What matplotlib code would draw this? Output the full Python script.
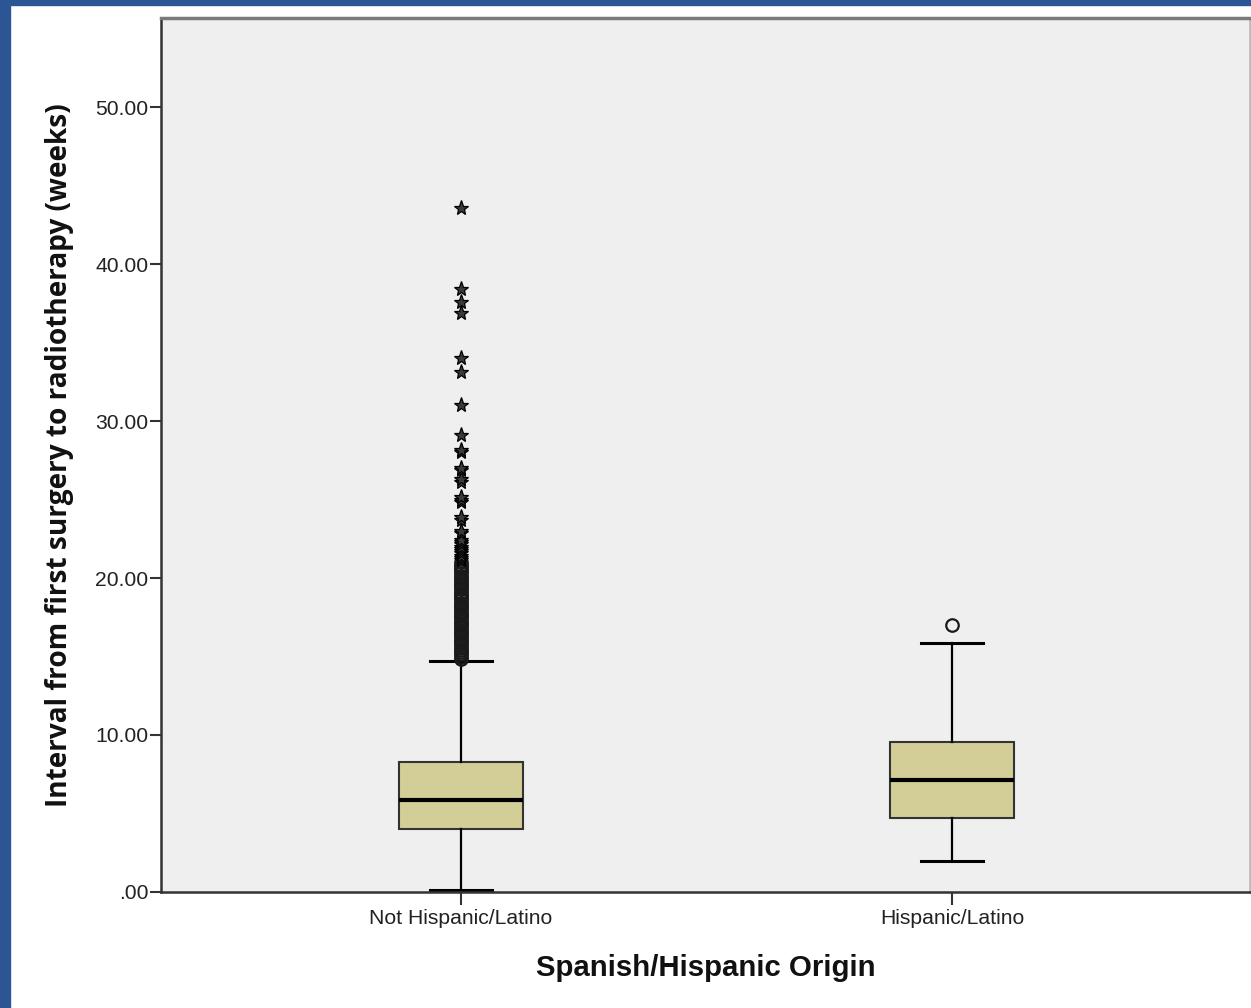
"""
Boxplot: interval from first surgery to radiotherapy by Hispanic origin
"""

import matplotlib.pyplot as plt
from matplotlib.patches import Rectangle


# 数据 (weeks)
groups = ['Not Hispanic/Latino', 'Hispanic/Latino']
q1 = [4.01, 4.71]
medians = [5.86, 7.13]
q3 = [8.28, 9.55]
whisker_low = [0.14, 1.97]
whisker_high = [14.71, 15.86]

# mild outliers (circles), 1.5-3 IQR
mild_outliers = [
    [14.86, 15.00, 15.14, 15.29, 15.43, 15.57, 15.71, 15.86, 16.00, 16.14,
     16.29, 16.43, 16.57, 16.71, 16.86, 17.00, 17.14, 17.29, 17.43, 17.57,
     17.71, 17.86, 18.00, 18.14, 18.29, 18.43, 18.57, 18.71, 18.86, 19.00,
     19.14, 19.29, 19.43, 19.57, 19.71, 19.86, 20.00, 20.14, 20.29, 20.43,
     20.57, 20.71, 20.86, 21.00],
    [17.00],
]
# extreme outliers (stars), > 3 IQR
extreme_outliers = [
    [21.14, 21.29, 21.43, 21.57, 21.71, 21.86, 22.00, 22.14, 22.29, 22.43,
     22.86, 23.00, 23.71, 23.86, 24.86, 25.00, 25.14, 26.14, 26.29, 26.86,
     27.00, 28.00, 28.14, 29.14, 31.00, 33.14, 34.00, 36.86, 37.57, 38.43,
     43.57],
    [],
]

y_ticks = [0, 10, 20, 30, 40, 50]
y_tick_labels = ['.00', '10.00', '20.00', '30.00', '40.00', '50.00']

BOX_COLOR = '#D3CE98'
BG_COLOR = '#EFEFEF'
BORDER_BLUE = '#2C5596'

fig = plt.figure(figsize=(12.51, 10.08), dpi=100)
ax = fig.add_axes([0.1287, 0.1151, 0.8705, 0.8670])
ax.set_facecolor(BG_COLOR)

positions = [1, 2]
stats = []
for i, name in enumerate(groups):
    stats.append({
        'label': name,
        'med': medians[i],
        'q1': q1[i],
        'q3': q3[i],
        'whislo': whisker_low[i],
        'whishi': whisker_high[i],
        'fliers': [],
    })

ax.bxp(stats, positions=positions, widths=0.252, capwidths=0.126,
       patch_artist=True, showfliers=False,
       boxprops=dict(facecolor=BOX_COLOR, edgecolor='#333333', linewidth=1.5),
       medianprops=dict(color='black', linewidth=3),
       whiskerprops=dict(color='black', linewidth=1.6),
       capprops=dict(color='black', linewidth=2.2))

# 离群点
for i, vals in enumerate(mild_outliers):
    ax.plot([positions[i]] * len(vals), vals, 'o', ms=9, mfc='none',
            mec='#1A1A1A', mew=1.6, zorder=4)
for i, vals in enumerate(extreme_outliers):
    if vals:
        ax.plot([positions[i]] * len(vals), vals, '*', ms=11, mfc='#3A3A3A',
                mec='black', mew=0.9, zorder=4)

ax.set_xlim(0.389, 2.607)
ax.set_ylim(0, 55.67)

ax.set_yticks(y_ticks)
ax.set_yticklabels(y_tick_labels, family='Liberation Sans', fontsize=15.2,
                   color='#222222')
ax.set_xticks(positions)
ax.set_xticklabels(groups, family='Liberation Sans', fontsize=15.2,
                   color='#222222')
ax.tick_params(axis='y', length=8, width=1.5, color='#333333', pad=1)
ax.tick_params(axis='x', length=9, width=1.5, color='#333333', pad=3)

for side in ['left', 'bottom']:
    ax.spines[side].set_color('#333333')
    ax.spines[side].set_linewidth(1.8)
ax.spines['top'].set_color('#7A7A7A')
ax.spines['top'].set_linewidth(2.5)
ax.spines['right'].set_color('#BDBDBD')
ax.spines['right'].set_linewidth(2)

# 坐标轴标题
fig.text(60 / 1251, 1 - 455 / 1008,
         'Interval from first surgery to radiotherapy (weeks)',
         rotation=90, ha='center', va='center', family='Open Sans',
         fontweight='bold', fontsize=20.2, color='#111111')
fig.text(706 / 1251, 1 - 968 / 1008, 'Spanish/Hispanic Origin',
         ha='center', va='center', family='Liberation Sans',
         fontweight='bold', fontsize=21.2, color='#111111')

# 蓝色边框
fig.add_artist(Rectangle((0, 0), 10 / 1251, 1, transform=fig.transFigure,
                         color=BORDER_BLUE, zorder=10))
fig.add_artist(Rectangle((0, 1 - 5 / 1008), 1, 5 / 1008,
                         transform=fig.transFigure, color=BORDER_BLUE, zorder=10))

fig.savefig('out.png', dpi=100)
